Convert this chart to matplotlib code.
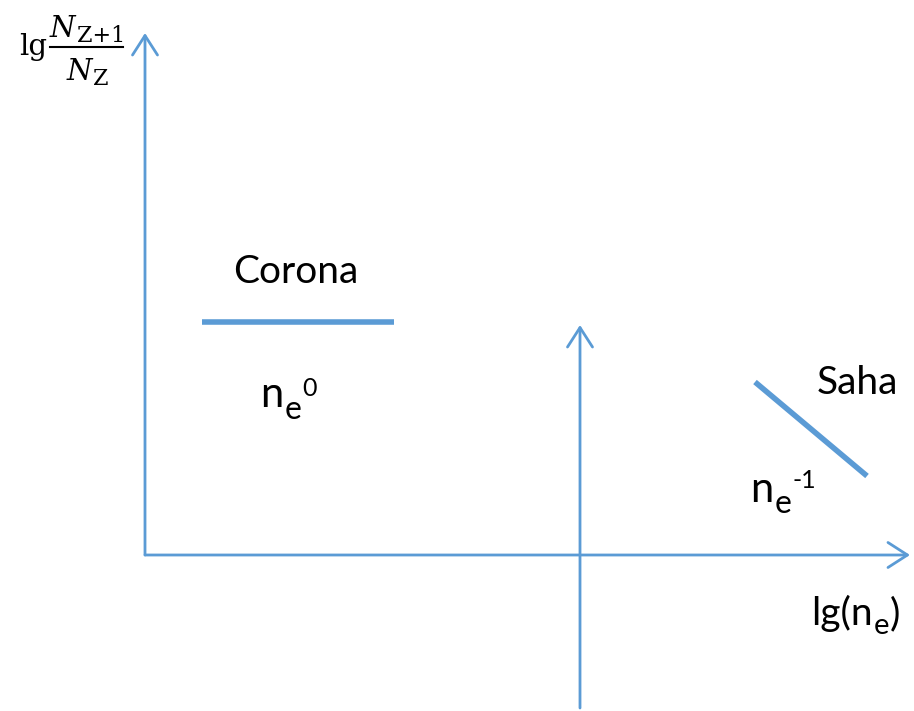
import matplotlib.pyplot as plt
from matplotlib.lines import Line2D
from matplotlib.patches import FancyArrowPatch
from matplotlib.transforms import IdentityTransform

plt.rcParams["font.family"] = ["Lato", "DejaVu Sans"]

BLUE = "#5b9bd5"

# schematic units: origin at axis crossing, 1 unit ~ 100 px
axis_x_end = 7.65
axis_y_end = 5.22
mid_x = 4.35
mid_y = [-1.53, 2.30]

corona_x = [0.57, 2.49]
corona_y = [2.33, 2.33]
saha_x = [6.10, 7.22]
saha_y = [1.73, 0.79]

fig = plt.figure(figsize=(9.14, 7.11), dpi=100)
ax = fig.add_axes([0, 0, 1, 1])
ax.set_xlim(-1.45, 7.69)
ax.set_ylim(-1.56, 5.55)
ax.axis("off")
renderer = fig.canvas.get_renderer()
H = 711  # figure height in px


def arrow(p0, p1):
    a = FancyArrowPatch(p0, p1, arrowstyle="->,head_length=0.7,head_width=0.45",
                        mutation_scale=20, lw=2, color=BLUE,
                        shrinkA=0, shrinkB=0)
    ax.add_patch(a)


def runs_px(px, py, parts, **kw):
    # parts: (text, fontsize, baseline shift in px, style); placed one after another
    for s, size, dy, style in parts:
        t = ax.text(px, py + dy, s, fontsize=size, ha="left", va="baseline",
                    style=style, transform=IdentityTransform(), **kw)
        bb = t.get_window_extent(renderer)
        px = bb.x1 + 1


def runs(x, y, parts):
    px, py = ax.transData.transform((x, y))
    runs_px(px, py, [(s, size, dy, "normal") for s, size, dy in parts])


arrow((0, 0), (0, axis_y_end))
arrow((0, 0), (axis_x_end, 0))
arrow((mid_x, mid_y[0]), (mid_x, mid_y[1]))

ax.plot(corona_x, corona_y, color=BLUE, lw=4, solid_capstyle="butt")
ax.plot(saha_x, saha_y, color=BLUE, lw=4, solid_capstyle="butt")

fs = 28
ax.text(1.51, 2.83, "Corona", fontsize=fs, ha="center", va="center")
ax.text(6.72, 1.72, "Saha", fontsize=fs, ha="left", va="center")
runs(1.15, 1.48, [("n", 30, 0), ("e", 23, -12), ("0", 18, 11)])
runs(6.05, 0.53, [("n", 30, 0), ("e", 23, -11), ("-1", 18, 14)])
runs(6.66, -0.70, [("lg(n", fs, 0), ("e", 21, -9), (")", fs, 0)])

# y label: lg N_{Z+1} / N_Z, built as a display-size fraction
serif = dict(family=["DejaVu Serif"])
runs_px(19, H - 55, [("lg", 21, 0, "normal")], **serif)
runs_px(50, H - 37, [("N", 21, 0, "italic"), ("Z+1", 16, -5, "normal")], **serif)
runs_px(67, H - 80, [("N", 21, 0, "italic"), ("Z", 16, -5, "normal")], **serif)
ax.add_line(Line2D([50, 123], [H - 47, H - 47], lw=1.5, color="black",
                   transform=IdentityTransform()))

fig.savefig("out.png", dpi=100)
